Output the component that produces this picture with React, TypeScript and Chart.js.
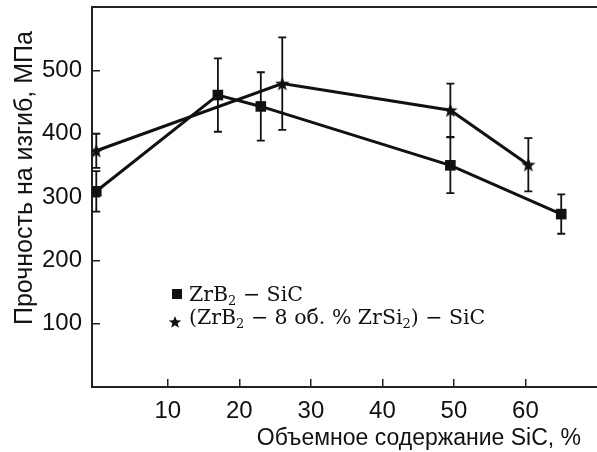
import React, { useEffect, useRef } from "react";
import { Chart, registerables } from "chart.js";

Chart.register(...registerables);

// ---- data ----
const sicZrB2 = [0, 17, 23, 49.5, 65];
const strengthZrB2 = [309, 461, 443, 350, 273];
const errZrB2 = [32, 58, 54, 44, 31];

const sicZrSi2 = [0, 26, 49.5, 60.4];
const strengthZrSi2 = [373, 479, 437, 351];
const errZrSi2 = [27, 73, 42, 42];

const xTicks = [10, 20, 30, 40, 50, 60];
const yTicks = [100, 200, 300, 400, 500];

const yTitle = "Прочность на изгиб, МПа";
const xTitle = "Объемное содержание SiC, %";

const INK = "#111";

function makeStar(size: number): HTMLCanvasElement {
  const c = document.createElement("canvas");
  c.width = size;
  c.height = size;
  const ctx = c.getContext("2d")!;
  const cx = size / 2, cy = size / 2 + 0.6;
  const R = size / 2, r = R * 0.42;
  ctx.beginPath();
  for (let i = 0; i < 10; i++) {
    const rad = i % 2 === 0 ? R : r;
    const a = -Math.PI / 2 + (i * Math.PI) / 5;
    const px = cx + rad * Math.cos(a);
    const py = cy + rad * Math.sin(a);
    if (i === 0) ctx.moveTo(px, py);
    else ctx.lineTo(px, py);
  }
  ctx.closePath();
  ctx.fillStyle = INK;
  ctx.fill();
  return c;
}

const errorBarPlugin = {
  id: "errorBars",
  afterDatasetsDraw(chart: any) {
    const ctx = chart.ctx;
    const yScale = chart.scales.y;
    const xScale = chart.scales.x;
    ctx.save();
    ctx.strokeStyle = INK;
    ctx.lineWidth = 1.8;
    chart.data.datasets.forEach((ds: any) => {
      const errs: number[] = ds.errors || [];
      ds.data.forEach((pt: any, i: number) => {
        const e = errs[i];
        if (e == null) return;
        const px = xScale.getPixelForValue(pt.x);
        const top = yScale.getPixelForValue(pt.y + e);
        const bot = yScale.getPixelForValue(pt.y - e);
        ctx.beginPath();
        ctx.moveTo(px, top);
        ctx.lineTo(px, bot);
        ctx.moveTo(px - 4, top);
        ctx.lineTo(px + 4, top);
        ctx.moveTo(px - 4, bot);
        ctx.lineTo(px + 4, bot);
        ctx.stroke();
      });
    });
    ctx.restore();
  },
};

const topBorderPlugin = {
  id: "topBorder",
  afterDraw(chart: any) {
    const { ctx, chartArea } = chart;
    ctx.save();
    ctx.strokeStyle = "#222";
    ctx.lineWidth = 2;
    ctx.beginPath();
    ctx.moveTo(chartArea.left - 1, chartArea.top);
    ctx.lineTo(chartArea.right, chartArea.top);
    ctx.stroke();
    ctx.restore();
  },
};

function StarIcon() {
  const pts: string[] = [];
  const R = 6.5, r = 2.8, cx = 7, cy = 7.5;
  for (let i = 0; i < 10; i++) {
    const rad = i % 2 === 0 ? R : r;
    const a = -Math.PI / 2 + (i * Math.PI) / 5;
    pts.push(`${(cx + rad * Math.cos(a)).toFixed(2)},${(cy + rad * Math.sin(a)).toFixed(2)}`);
  }
  return (
    <svg width={14} height={14} style={{ position: "absolute", left: 168, top: 315 }}>
      <polygon points={pts.join(" ")} fill={INK} />
    </svg>
  );
}

export default function App() {
  const ref = useRef<HTMLCanvasElement | null>(null);

  useEffect(() => {
    document.body.style.margin = "0";
    const star = makeStar(15);
    const chart = new Chart(ref.current!, {
      type: "scatter",
      data: {
        datasets: [
          {
            label: "ZrB2 - SiC",
            data: sicZrB2.map((x, i) => ({ x, y: strengthZrB2[i] })),
            errors: errZrB2,
            showLine: true,
            borderColor: INK,
            borderWidth: 3,
            pointStyle: "rect",
            pointRadius: 7.5,
            pointBackgroundColor: INK,
            pointBorderColor: INK,
            pointBorderWidth: 0,
          } as any,
          {
            label: "(ZrB2 - 8 об. % ZrSi2) - SiC",
            data: sicZrSi2.map((x, i) => ({ x, y: strengthZrSi2[i] })),
            errors: errZrSi2,
            showLine: true,
            borderColor: INK,
            borderWidth: 3,
            pointStyle: star,
            pointRadius: 7,
          } as any,
        ],
      },
      options: {
        animation: false,
        responsive: false,
        devicePixelRatio: 1,
        layout: { autoPadding: false, padding: { top: 7, left: 0, right: 0, bottom: 0 } },
        plugins: {
          legend: { display: false },
          tooltip: { enabled: false },
        },
        scales: {
          x: {
            type: "linear",
            min: -0.6,
            max: 70,
            afterBuildTicks: (s: any) => {
              s.ticks = xTicks.map((v) => ({ value: v }));
            },
            afterFit: (s: any) => {
              s.height = 65;
              s.paddingLeft = 0;
              s.paddingRight = 0;
            },
            grid: {
              drawOnChartArea: false,
              tickLength: -8,
              color: "#222",
              lineWidth: 1.5,
            },
            border: { color: "#222", width: 2 },
            ticks: {
              color: INK,
              font: { family: "'Liberation Sans', Arial, sans-serif", size: 24 },
              padding: 18,
              maxRotation: 0,
            },
          },
          y: {
            type: "linear",
            min: 0,
            max: 600,
            afterBuildTicks: (s: any) => {
              s.ticks = yTicks.map((v) => ({ value: v }));
            },
            afterFit: (s: any) => {
              s.width = 92;
              s.paddingTop = 0;
              s.paddingBottom = 0;
            },
            grid: {
              drawOnChartArea: false,
              tickLength: -8,
              color: "#222",
              lineWidth: 1.5,
            },
            border: { color: "#222", width: 2 },
            ticks: {
              color: INK,
              font: { family: "'Liberation Sans', Arial, sans-serif", size: 24 },
              padding: 18,
            },
          },
        },
      } as any,
      plugins: [errorBarPlugin, topBorderPlugin],
    });
    return () => chart.destroy();
  }, []);

  const serif = "'DejaVu Serif', 'Liberation Serif', serif";
  const sans = "'Liberation Sans', Arial, sans-serif";
  const subStyle: React.CSSProperties = { fontSize: 13, verticalAlign: "-4px", lineHeight: 0 };

  return (
    <div style={{ position: "absolute", left: 0, top: 0, width: 597, height: 452, background: "#fff", overflow: "hidden" }}>
      <canvas ref={ref} width={597} height={452} style={{ width: 597, height: 452, display: "block" }} />
      <div
        style={{
          position: "absolute",
          left: 23,
          top: 178,
          transform: "translate(-50%, -50%) rotate(-90deg)",
          whiteSpace: "nowrap",
          fontFamily: sans,
          fontSize: 25,
          lineHeight: "28px",
          color: INK,
        }}
      >
        {yTitle}
      </div>
      <div
        style={{
          position: "absolute",
          right: 16,
          top: 424,
          whiteSpace: "nowrap",
          fontFamily: sans,
          fontSize: 23,
          lineHeight: "26px",
          color: INK,
        }}
      >
        {xTitle}
      </div>
      <div style={{ position: "absolute", left: 172, top: 289, width: 10, height: 10, background: INK }} />
      <StarIcon />
      <div
        style={{
          position: "absolute",
          left: 189,
          top: 282,
          fontFamily: serif,
          fontSize: 20.5,
          lineHeight: "24px",
          color: INK,
          whiteSpace: "nowrap",
        }}
      >
        ZrB<sub style={subStyle}>2</sub> − SiC
      </div>
      <div
        style={{
          position: "absolute",
          left: 189,
          top: 305,
          fontFamily: serif,
          fontSize: 20.5,
          lineHeight: "24px",
          color: INK,
          whiteSpace: "nowrap",
        }}
      >
        (ZrB<sub style={subStyle}>2</sub> − 8 об. % ZrSi<sub style={subStyle}>2</sub>) − SiC
      </div>
    </div>
  );
}
